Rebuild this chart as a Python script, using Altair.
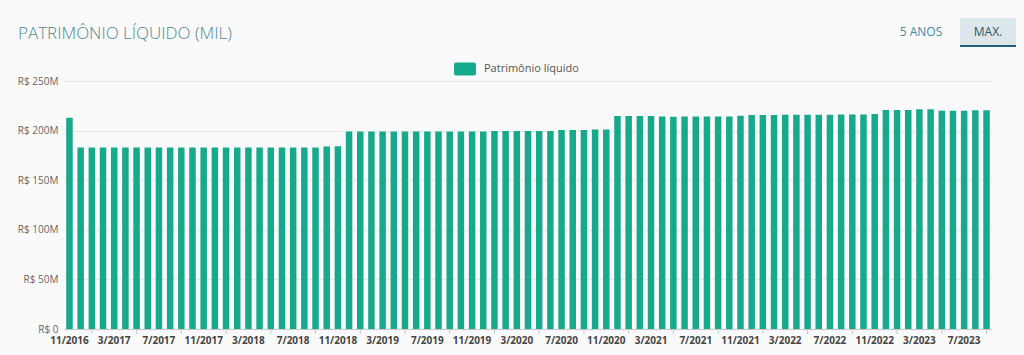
import altair as alt
import pandas as pd

# ---- data ----
start_year, start_month, n_months = 2016, 11, 83
months = []
for k in range(n_months):
    m = (start_month - 1 + k) % 12 + 1
    y = start_year + (start_month - 1 + k) // 12
    months.append(f"{m}/{y}")

# Patrimônio líquido, R$ milhões
values = (
    [213.0]
    + [183.0] * 22
    + [184.0, 184.2]
    + [199.0] * 13
    + [199.5] * 6
    + [200.5] * 3
    + [201.0, 201.0]
    + [214.6, 214.6, 214.6, 214.6, 214.3, 214.0, 214.3, 214.3, 214.3, 214.3, 214.3,
       215.0, 215.7, 215.7, 215.7, 216.0, 216.0, 216.0, 216.0, 216.0, 216.3, 216.3,
       216.3, 216.7, 220.7, 220.7, 220.7, 221.4, 221.4, 220.0, 220.0, 220.0, 220.4, 220.4]
)
series_name = "Patrimônio líquido"
label_months = months[0::4]
tick_months = months[2::4]
y_ticks = [0, 50, 100, 150, 200, 250]

df = pd.DataFrame({"mes": months, "valor": values, "serie": series_name})
ticks_df = pd.DataFrame({"mes": tick_months})
one = pd.DataFrame({"a": [0]})

BAR = "#17a98b"
FONT = "Open Sans"

W, H = 928, 248
L, T = 64, 81

x_enc = alt.X(
    "mes:O",
    sort=months,
    scale=alt.Scale(paddingInner=0.42, paddingOuter=0.2),
    axis=alt.Axis(
        title=None, values=label_months, ticks=False, labelAngle=0,
        labelFont=FONT, labelFontSize=10, labelFontWeight="bold",
        labelColor="#444444", labelPadding=6, domainColor="#c8c8c8",
        labelOverlap=False,
    ),
)

bars = alt.Chart(df).mark_bar().encode(
    x=x_enc,
    y=alt.Y(
        "valor:Q",
        scale=alt.Scale(domain=[0, 250], nice=False),
        axis=alt.Axis(
            title=None, values=y_ticks, ticks=False, domain=False,
            gridColor="#e9e9e9", labelFont=FONT, labelFontSize=10,
            labelColor="#666666", labelPadding=6,
            labelExpr="'R$ ' + (datum.value == 0 ? '0' : datum.value + 'M')",
        ),
    ),
    color=alt.Color(
        "serie:N",
        scale=alt.Scale(domain=[series_name], range=[BAR]),
        legend=alt.Legend(
            title=None, orient="none", legendX=454 - L, legendY=58 - T,
            symbolType="M-0.82,-0.59 L0.82,-0.59 Q1,-0.59 1,-0.41 L1,0.41 Q1,0.59 0.82,0.59 L-0.82,0.59 Q-1,0.59 -1,0.41 L-1,-0.41 Q-1,-0.59 -0.82,-0.59 Z",
            symbolSize=484, symbolStrokeWidth=0, labelFont=FONT, labelFontSize=11,
            labelColor="#555555", labelOffset=8,
        ),
    ),
)

tick_rules = alt.Chart(ticks_df).mark_rule(color="#c8c8c8", strokeWidth=1).encode(
    x=alt.X("mes:O", sort=months),
    y=alt.value(H),
    y2=alt.value(H + 5),
)

title = alt.Chart(one).mark_text(
    text="PATRIMÔNIO LÍQUIDO (MIL)", font=FONT, fontSize=17, fontWeight=300,
    color="#4f8797", align="left", baseline="middle",
).encode(x=alt.value(18 - L), y=alt.value(34 - T))

btn5 = alt.Chart(one).mark_text(
    text="5 ANOS", font=FONT, fontSize=12, color="#3d8ca5", align="center", baseline="middle",
).encode(x=alt.value(921 - L), y=alt.value(32 - T))

maxbox = alt.Chart(one).mark_rect(fill="#dde6ea").encode(
    x=alt.value(960 - L), x2=alt.value(1016 - L), y=alt.value(18 - T), y2=alt.value(45 - T)
)
maxline = alt.Chart(one).mark_rect(fill="#1f5c75").encode(
    x=alt.value(960 - L), x2=alt.value(1016 - L), y=alt.value(45 - T), y2=alt.value(47 - T)
)
maxtxt = alt.Chart(one).mark_text(
    text="MAX.", font=FONT, fontSize=12, color="#2b5566", align="center", baseline="middle",
).encode(x=alt.value(988 - L), y=alt.value(32 - T))

chart = (
    alt.layer(bars, tick_rules, title, btn5, maxbox, maxline, maxtxt)
    .properties(
        width=W, height=H,
        autosize=alt.AutoSizeParams(type="none"),
        padding={"left": L, "top": T, "right": 1024 - L - W, "bottom": 355 - T - H},
        background="#fafafa",
    )
    .configure_view(strokeWidth=0)
)

chart.save("out.html", embed_options={"renderer": "svg", "actions": False})
